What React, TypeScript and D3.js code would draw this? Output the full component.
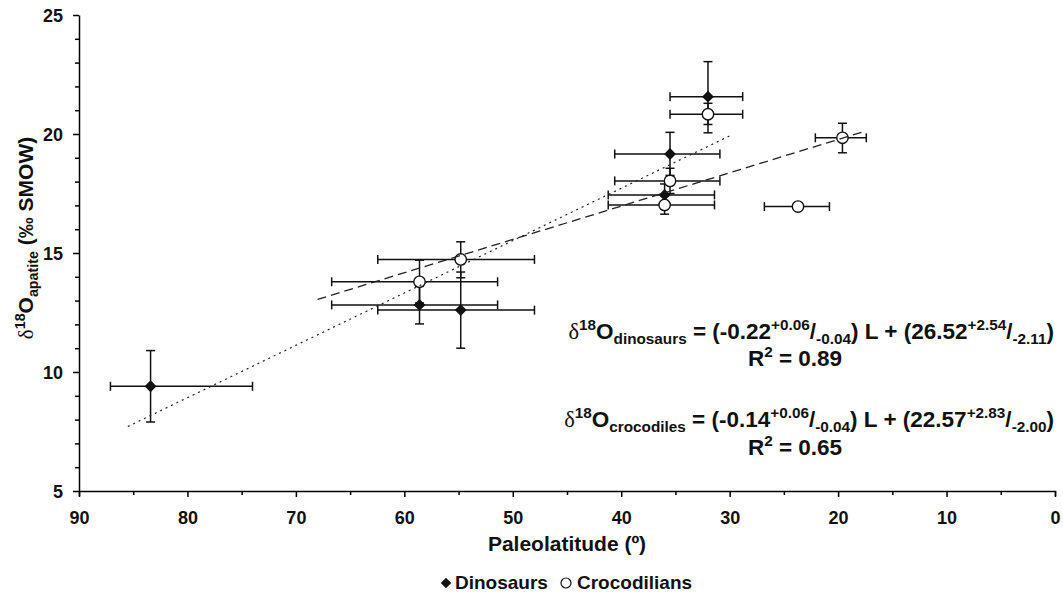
import React, { useEffect, useRef } from 'react'
import * as d3 from 'd3'

// dinosaurs (filled diamonds)
const dinoLat = [83.4, 58.6, 54.8, 36.0, 35.5, 32.0]
const dinoVal = [9.4, 12.82, 12.6, 17.44, 19.16, 21.57]
const dinoLatLow = [74.0, 51.4, 48.0, 31.4, 30.9, 28.8]
const dinoLatHigh = [87.1, 66.7, 62.45, 41.2, 40.6, 35.5]
const dinoValLow = [7.9, 12.02, 11.0, 17.0, 18.26, 20.05]
const dinoValHigh = [10.9, 13.6, 14.2, 17.9, 20.07, 23.04]

// crocodilians (open circles)
const crocLat = [58.6, 54.8, 36.0, 35.5, 32.0, 23.7, 19.6]
const crocVal = [13.79, 14.73, 17.02, 18.03, 20.83, 16.95, 19.84]
const crocLatLow = [51.4, 48.0, 31.4, 30.9, 28.8, 20.8, 17.4]
const crocLatHigh = [66.7, 62.45, 41.2, 40.6, 35.5, 26.8, 22.1]
const crocValLow = [12.9, 13.96, 16.63, 17.5, 20.4, 16.8, 19.21]
const crocValHigh = [14.7, 15.47, 17.4, 18.56, 21.29, 17.1, 20.45]

// regression lines: slope, intercept, lat range
const dinoFit = [-0.22, 26.52]
const dinoFitRange = [85.5, 30]
const crocFit = [-0.14, 22.57]
const crocFitRange = [68, 17.5]

const xTicks = [90, 80, 70, 60, 50, 40, 30, 20, 10, 0]
const yTicks = [5, 10, 15, 20, 25]

const FONT = "'Liberation Sans', Arial, sans-serif"

// segments: [text, mode] mode n = normal, p = sup, b = sub, d = delta
const addRich = (txt, segs, size) => {
  let cur = 0
  for (let [t, m] of segs) {
    let target = m === 'p' ? -size * 0.38 : m === 'b' ? size * 0.24 : 0
    let ts = txt.append('tspan').attr('dy', target - cur).text(t)
    cur = target
    if (m === 'p' || m === 'b') ts.attr('font-size', size * 0.68)
    if (m === 'd') ts.attr('font-family', "'Liberation Serif', serif").attr('font-weight', 'normal')
  }
}

export default function App() {
  const ref = useRef(null)

  useEffect(() => {
    const svg = d3.select(ref.current)
    svg.selectAll('*').remove()

    const x = d3.scaleLinear().domain([90, 0]).range([79, 1055])
    const y = d3.scaleLinear().domain([5, 25]).range([491, 15])

    // axes
    const gx = svg.append('g').attr('transform', 'translate(0,491)')
    gx.call(d3.axisBottom(x).tickValues(d3.range(0, 91, 5)).tickSize(5).tickFormat(() => ''))
    gx.selectAll('.tick line').attr('stroke-width', 1.5)
      .attr('y2', (d) => (d % 10 === 0 ? 6 : 4))
    gx.select('.domain').attr('stroke-width', 1.5)
    gx.selectAll('.tick').filter((d) => xTicks.includes(d)).append('text')
      .attr('y', 33).attr('fill', '#111').attr('text-anchor', 'middle')
      .style('font-family', FONT).style('font-weight', 'bold').style('font-size', '18px')
      .text((d) => d)

    const gy = svg.append('g').attr('transform', 'translate(79,0)')
    gy.call(d3.axisLeft(y).tickValues(d3.range(5, 26, 1)).tickSize(5).tickSizeOuter(0).tickFormat(() => ''))
    gy.selectAll('.tick line').attr('stroke-width', 1.5)
      .attr('x2', (d) => (d % 5 === 0 ? -6 : -4))
    gy.select('.domain').attr('stroke-width', 1.5)
    gy.selectAll('.tick').filter((d) => yTicks.includes(d)).append('text')
      .attr('x', -16).attr('dy', '0.36em').attr('fill', '#111').attr('text-anchor', 'end')
      .style('font-family', FONT).style('font-weight', 'bold').style('font-size', '18px')
      .text((d) => d)

    // axis titles
    svg.append('text').attr('x', 567).attr('y', 551).attr('text-anchor', 'middle')
      .style('font-family', FONT).style('font-weight', 'bold').style('font-size', '21px').attr('fill', '#111')
      .text('Paleolatitude (º)')

    const yl = svg.append('text').attr('transform', 'translate(33,238) rotate(-90)').attr('text-anchor', 'middle')
      .style('font-family', FONT).style('font-weight', 'bold').style('font-size', '21px').attr('fill', '#111')
    addRich(yl, [['δ', 'd'], ['18', 'p'], ['O', 'n'], ['apatite', 'b'], [' (‰ SMOW)', 'n']], 21)

    // error bars
    const cap = 4.5
    const errs = svg.append('g').attr('stroke', '#111').attr('stroke-width', 1.5).attr('fill', 'none')
    const drawErr = (lat, val, l0, l1, v0, v1) => {
      lat.forEach((d, i) => {
        errs.append('line').attr('x1', x(l0[i])).attr('x2', x(l1[i])).attr('y1', y(val[i])).attr('y2', y(val[i]))
        errs.append('line').attr('x1', x(l0[i])).attr('x2', x(l0[i])).attr('y1', y(val[i]) - cap).attr('y2', y(val[i]) + cap)
        errs.append('line').attr('x1', x(l1[i])).attr('x2', x(l1[i])).attr('y1', y(val[i]) - cap).attr('y2', y(val[i]) + cap)
        errs.append('line').attr('x1', x(d)).attr('x2', x(d)).attr('y1', y(v0[i])).attr('y2', y(v1[i]))
        errs.append('line').attr('x1', x(d) - cap).attr('x2', x(d) + cap).attr('y1', y(v0[i])).attr('y2', y(v0[i]))
        errs.append('line').attr('x1', x(d) - cap).attr('x2', x(d) + cap).attr('y1', y(v1[i])).attr('y2', y(v1[i]))
      })
    }
    drawErr(dinoLat, dinoVal, dinoLatLow, dinoLatHigh, dinoValLow, dinoValHigh)
    drawErr(crocLat, crocVal, crocLatLow, crocLatHigh, crocValLow, crocValHigh)

    // markers
    const diamond = d3.symbol().type(d3.symbolDiamond2).size(90)
    svg.append('g').selectAll('path').data(dinoLat).enter().append('path')
      .attr('d', diamond)
      .attr('transform', (d, i) => `translate(${x(d)},${y(dinoVal[i])})`)
      .attr('fill', '#111')
    svg.append('g').selectAll('circle').data(crocLat).enter().append('circle')
      .attr('cx', (d) => x(d)).attr('cy', (d, i) => y(crocVal[i])).attr('r', 5.7)
      .attr('fill', '#fff').attr('stroke', '#111').attr('stroke-width', 1.4)

    // fit lines
    const line = d3.line().x((d) => x(d[0])).y((d) => y(d[1]))
    const fitPts = (fit, r) => r.map((l) => [l, fit[0] * l + fit[1]])
    svg.append('path').datum(fitPts(dinoFit, dinoFitRange)).attr('d', line)
      .attr('fill', 'none').attr('stroke', '#222').attr('stroke-width', 1.2).attr('stroke-dasharray', '2,4')
    svg.append('path').datum(fitPts(crocFit, crocFitRange)).attr('d', line)
      .attr('fill', 'none').attr('stroke', '#222').attr('stroke-width', 1.3).attr('stroke-dasharray', '9,5')

    // equations
    const eq = (yy, name, a, ap, am, b, bp, bm, r2, ry) => {
      const t = svg.append('text').attr('x', 1054).attr('y', yy).attr('text-anchor', 'end')
        .style('font-family', FONT).style('font-weight', 'bold').style('font-size', '22.5px').attr('fill', '#111')
      addRich(t, [['δ', 'd'], ['18', 'p'], ['O', 'n'], [name, 'b'], [' = (' + a, 'n'], [ap, 'p'], ['/', 'n'], [am, 'b'],
        [') L + (' + b, 'n'], [bp, 'p'], ['/', 'n'], [bm, 'b'], [')', 'n']], 22.5)
      const r = svg.append('text').attr('x', 795).attr('y', ry).attr('text-anchor', 'middle')
        .style('font-family', FONT).style('font-weight', 'bold').style('font-size', '22.5px').attr('fill', '#111')
      addRich(r, [['R', 'n'], ['2', 'p'], [' = ' + r2, 'n']], 22.5)
    }
    eq(339, 'dinosaurs', '-0.22', '+0.06', '-0.04', '26.52', '+2.54', '-2.11', '0.89', 366)
    eq(427, 'crocodiles', '-0.14', '+0.06', '-0.04', '22.57', '+2.83', '-2.00', '0.65', 455)

    // legend
    const lg = svg.append('g')
    lg.append('path').attr('d', d3.symbol().type(d3.symbolDiamond2).size(70))
      .attr('transform', 'translate(446,583)').attr('fill', '#111')
    lg.append('text').attr('x', 455).attr('y', 589).text('Dinosaurs')
      .style('font-family', FONT).style('font-weight', 'bold').style('font-size', '19px').attr('fill', '#111')
    lg.append('circle').attr('cx', 566).attr('cy', 583).attr('r', 5)
      .attr('fill', '#fff').attr('stroke', '#111').attr('stroke-width', 1.2)
    lg.append('text').attr('x', 577).attr('y', 589).text('Crocodilians')
      .style('font-family', FONT).style('font-weight', 'bold').style('font-size', '19px').attr('fill', '#111')
  }, [])

  return (
    <svg ref={ref} width={1063} height={593}
      style={{ position: 'absolute', left: 0, top: 0, background: '#fff' }}></svg>
  )
}
